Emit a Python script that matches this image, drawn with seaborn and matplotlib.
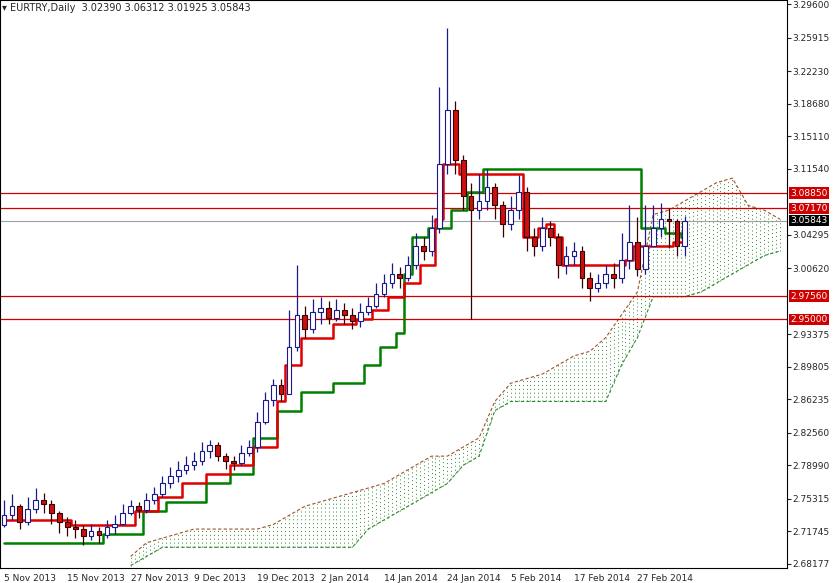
import numpy as np
import matplotlib
matplotlib.use("Agg")
import matplotlib.pyplot as plt
import seaborn as sns

sns.set_style("white")
plt.rcParams['font.family'] = ['DejaVu Sans']

close = [2.735,2.745,2.728,2.742,2.752,2.748,2.738,2.728,2.722,2.720,2.712,2.718,2.713,2.722,2.726,2.738,
         2.745,2.741,2.752,2.758,2.770,2.778,2.785,2.790,2.795,2.806,2.812,2.800,2.795,2.792,2.804,2.810,
         2.838,2.862,2.878,2.868,2.920,2.955,2.940,2.958,2.962,2.952,2.960,2.955,2.948,2.958,2.965,2.978,
         2.990,3.000,2.995,3.010,3.030,3.025,3.050,3.120,3.180,3.125,3.085,3.070,3.080,3.095,3.075,3.055,
         3.070,3.090,3.040,3.030,3.050,3.040,3.010,3.020,3.025,2.995,2.985,2.990,3.000,2.995,3.015,3.035,
         3.005,3.030,3.050,3.060,3.058,3.030,3.0584]
opens = [2.725] + close[:-1]
high = [2.752,2.758,2.748,2.755,2.765,2.760,2.752,2.740,2.733,2.730,2.725,2.726,2.722,2.730,2.735,2.748,
        2.752,2.750,2.760,2.766,2.778,2.788,2.795,2.800,2.805,2.815,2.818,2.815,2.803,2.800,2.812,2.818,
        2.848,2.870,2.885,2.885,2.960,3.010,2.965,2.972,2.975,2.970,2.972,2.968,2.962,2.968,2.975,2.990,
        3.000,3.012,3.008,3.020,3.045,3.040,3.065,3.205,3.270,3.190,3.130,3.100,3.110,3.115,3.100,3.080,
        3.085,3.108,3.095,3.050,3.062,3.058,3.045,3.030,3.035,3.030,3.002,3.000,3.010,3.012,3.045,3.075,
        3.062,3.075,3.075,3.078,3.072,3.060,3.0631]
low = [2.722,2.730,2.720,2.724,2.738,2.738,2.726,2.716,2.712,2.710,2.702,2.708,2.705,2.710,2.715,2.724,
       2.735,2.732,2.738,2.748,2.755,2.765,2.772,2.780,2.785,2.790,2.798,2.795,2.786,2.785,2.790,2.800,
       2.805,2.835,2.855,2.860,2.868,2.915,2.930,2.935,2.945,2.945,2.948,2.945,2.940,2.942,2.955,2.962,
       2.975,2.985,2.985,2.992,3.005,3.015,3.020,3.045,3.110,3.110,3.070,2.950,3.060,3.070,3.060,3.040,
       3.048,3.060,3.025,3.020,3.025,3.030,2.995,3.000,3.010,2.985,2.970,2.980,2.985,2.985,2.990,3.005,
       2.998,3.000,3.030,3.040,3.028,3.020,3.0193]
tenkan = [2.73]*9 + [2.725]*8 + [2.74]*3 + [2.755]*3 + [2.77]*3 + [2.78]*3 + [2.79]*3 + [2.81]*3 + \
         [2.86] + [2.90]*2 + [2.93]*4 + [2.945]*3 + [2.95]*2 + [2.96]*2 + [2.975]*2 + [2.99]*2 + [3.01]*2 + \
         [3.06] + [3.12]*2 + [3.11]*8 + [3.04]*2 + [3.05] + [3.055] + [3.04] + [3.01]*8 + [3.015] + [3.03]*5 + [3.035]*2
kijun = [2.705]*13 + [2.715]*5 + [2.74]*3 + [2.75]*5 + [2.77]*3 + [2.78]*3 + [2.82]*3 + [2.85]*3 + \
        [2.87]*4 + [2.88]*4 + [2.90]*2 + [2.92]*2 + [2.935] + [3.0] + [3.04]*2 + [3.05]*3 + [3.07]*2 + \
        [3.09]*2 + [3.115]*20 + [3.05]*3 + [3.045]*2 + [3.04]
cloud_x = list(range(16, 100, 2))
span_a = [2.69,2.705,2.71,2.715,2.72,2.72,2.72,2.72,2.72,2.725,2.735,2.745,2.75,2.755,2.76,2.765,2.77,2.78,
          2.79,2.80,2.80,2.81,2.82,2.86,2.88,2.885,2.89,2.90,2.91,2.915,2.93,2.955,2.98,3.065,3.07,3.08,3.09,
          3.10,3.105,3.075,3.07,3.06]
span_b = [2.68,2.69,2.70,2.70,2.70,2.70,2.70,2.70,2.70,2.70,2.70,2.70,2.70,2.70,2.70,2.72,2.73,2.74,2.75,
          2.76,2.77,2.79,2.80,2.85,2.86,2.86,2.86,2.86,2.86,2.86,2.86,2.90,2.93,2.975,2.975,2.975,2.98,2.99,
          3.00,3.01,3.02,3.025]
date_labels = ["5 Nov 2013","15 Nov 2013","27 Nov 2013","9 Dec 2013","19 Dec 2013","2 Jan 2014",
               "14 Jan 2014","24 Jan 2014","5 Feb 2014","17 Feb 2014","27 Feb 2014"]
yticks = [3.29600,3.25915,3.22230,3.18680,3.15110,3.11540,3.04295,3.00620,2.93375,2.89805,2.86235,
          2.82560,2.78990,2.75315,2.71745,2.68177]
levels_red = [3.08850, 3.07170, 2.97560, 2.95000]
last_price = 3.05843

fig = plt.figure(figsize=(8.34, 5.83), dpi=100)
ax = fig.add_axes([0.0, 15/583, 787/834, 1 - 15/583])
n = len(close)
x = np.arange(n)

xs = np.arange(cloud_x[0], cloud_x[-1] + 0.01, 0.5)
a_i = np.interp(xs, cloud_x, span_a)
b_i = np.interp(xs, cloud_x, span_b)
for xx, aa, bb in zip(xs, a_i, b_i):
    col = "#2e8b2e" if aa >= bb else "#a0522d"
    ax.vlines(xx, min(aa, bb), max(aa, bb), colors=col, linestyles=(0, (1, 3)), lw=0.7)
ax.plot(cloud_x, span_a, color="#a0522d", ls=(0, (3, 2)), lw=0.8)
ax.plot(cloud_x, span_b, color="#2e8b2e", ls=(0, (3, 2)), lw=0.8)

for lv in levels_red:
    ax.axhline(lv, color="#d00000", lw=0.9)
ax.axhline(last_price, color="#a0a0a0", lw=0.8)

sns.lineplot(x=x, y=kijun, ax=ax, color="#008000", lw=1.8, drawstyle="steps-mid")
sns.lineplot(x=x, y=tenkan, ax=ax, color="#e00000", lw=1.8, drawstyle="steps-mid")

for i in range(n):
    o, c, h, l = opens[i], close[i], high[i], low[i]
    bull = c >= o
    edge = "#1a1a8c" if bull else "#3a0000"
    ax.vlines(i, l, h, colors=edge, lw=0.9, zorder=3)
    face = "white" if bull else "#cc1010"
    ax.add_patch(plt.Rectangle((i - 0.3, min(o, c)), 0.6, max(abs(c - o), 0.0008),
                               facecolor=face, edgecolor=edge, lw=0.8, zorder=4))

ax.set_xlim(-0.5, 98.9)
ax.set_ylim(2.6773, 3.3004)
ax.yaxis.tick_right()
ax.set_yticks(yticks)
ax.set_yticklabels([f"{v:.5f}" for v in yticks], fontsize=6.5)
ax.set_xticks(np.arange(0, 81, 8))
ax.set_xticklabels(date_labels, fontsize=6.5, ha="left")
ax.tick_params(axis="both", length=3, pad=1)
for s in ax.spines.values():
    s.set_color("black"); s.set_linewidth(0.8)

for lv in levels_red:
    ax.text(1.004, lv, f"{lv:.5f}", transform=ax.get_yaxis_transform(), fontsize=6.5, color="white",
            va="center", ha="left", bbox=dict(facecolor="#d00000", edgecolor="none", pad=1))
ax.text(1.004, last_price, f"{last_price:.5f}", transform=ax.get_yaxis_transform(), fontsize=6.5,
        color="white", va="center", ha="left", bbox=dict(facecolor="black", edgecolor="none", pad=1))
ax.text(0.003, 0.995, "\u25be EURTRY,Daily  3.02390 3.06312 3.01925 3.05843", transform=ax.transAxes,
        fontsize=7, va="top", ha="left")
fig.savefig("out.png", dpi=100)
